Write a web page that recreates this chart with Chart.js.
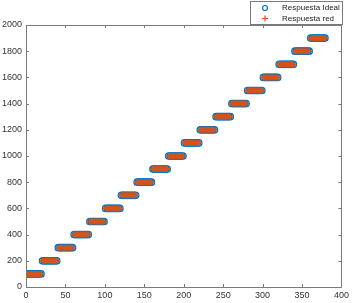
<!DOCTYPE html>
<html>
<head>
<meta charset="utf-8">
<script src="https://cdn.jsdelivr.net/npm/chart.js@4"></script>
<style>
html,body{margin:0;padding:0;background:#fff;}
canvas{display:block;}
</style>
</head>
<body>
<canvas id="c" width="352" height="303"></canvas>
<script>
const xValues = [
  1,3,5,7,9,11,13,15,17,19,
  21,23,25,27,29,31,33,35,37,39,
  41,43,45,47,49,51,53,55,57,59,
  61,63,65,67,69,71,73,75,77,79,
  81,83,85,87,89,91,93,95,97,99,
  101,103,105,107,109,111,113,115,117,119,
  121,123,125,127,129,131,133,135,137,139,
  141,143,145,147,149,151,153,155,157,159,
  161,163,165,167,169,171,173,175,177,179,
  181,183,185,187,189,191,193,195,197,199,
  201,203,205,207,209,211,213,215,217,219,
  221,223,225,227,229,231,233,235,237,239,
  241,243,245,247,249,251,253,255,257,259,
  261,263,265,267,269,271,273,275,277,279,
  281,283,285,287,289,291,293,295,297,299,
  301,303,305,307,309,311,313,315,317,319,
  321,323,325,327,329,331,333,335,337,339,
  341,343,345,347,349,351,353,355,357,359,
  361,363,365,367,369,371,373,375,377,379
];
const idealValues = [
  100,100,100,100,100,100,100,100,100,100,
  200,200,200,200,200,200,200,200,200,200,
  300,300,300,300,300,300,300,300,300,300,
  400,400,400,400,400,400,400,400,400,400,
  500,500,500,500,500,500,500,500,500,500,
  600,600,600,600,600,600,600,600,600,600,
  700,700,700,700,700,700,700,700,700,700,
  800,800,800,800,800,800,800,800,800,800,
  900,900,900,900,900,900,900,900,900,900,
  1000,1000,1000,1000,1000,1000,1000,1000,1000,1000,
  1100,1100,1100,1100,1100,1100,1100,1100,1100,1100,
  1200,1200,1200,1200,1200,1200,1200,1200,1200,1200,
  1300,1300,1300,1300,1300,1300,1300,1300,1300,1300,
  1400,1400,1400,1400,1400,1400,1400,1400,1400,1400,
  1500,1500,1500,1500,1500,1500,1500,1500,1500,1500,
  1600,1600,1600,1600,1600,1600,1600,1600,1600,1600,
  1700,1700,1700,1700,1700,1700,1700,1700,1700,1700,
  1800,1800,1800,1800,1800,1800,1800,1800,1800,1800,
  1900,1900,1900,1900,1900,1900,1900,1900,1900,1900
];
const redValues = [
  100,100,100,100,100,100,100,100,100,100,
  200,200,200,200,200,200,200,200,200,200,
  300,300,300,300,300,300,300,300,300,300,
  400,400,400,400,400,400,400,400,400,400,
  500,500,500,500,500,500,500,500,500,500,
  600,600,600,600,600,600,600,600,600,600,
  700,700,700,700,700,700,700,700,700,700,
  800,800,800,800,800,800,800,800,800,800,
  900,900,900,900,900,900,900,900,900,900,
  1000,1000,1000,1000,1000,1000,1000,1000,1000,1000,
  1100,1100,1100,1100,1100,1100,1100,1100,1100,1100,
  1200,1200,1200,1200,1200,1200,1200,1200,1200,1200,
  1300,1300,1300,1300,1300,1300,1300,1300,1300,1300,
  1400,1400,1400,1400,1400,1400,1400,1400,1400,1400,
  1500,1500,1500,1500,1500,1500,1500,1500,1500,1500,
  1600,1600,1600,1600,1600,1600,1600,1600,1600,1600,
  1700,1700,1700,1700,1700,1700,1700,1700,1700,1700,
  1800,1800,1800,1800,1800,1800,1800,1800,1800,1800,
  1900,1900,1900,1900,1900,1900,1900,1900,1900,1900
];
const xTicks = [0,50,100,150,200,250,300,350,400];
const yTicks = [0,200,400,600,800,1000,1200,1400,1600,1800,2000];
const seriesNames = ['Respuesta Ideal','Respuesta red'];

const BLUE = '#0072BD';
const ORANGE = '#D95319';
const AXIS = '#7a7a7a';
const FONT = '"Liberation Sans", Arial, sans-serif';

const idealPts = xValues.map((x,i)=>({x:x,y:idealValues[i]}));
const redPts = xValues.map((x,i)=>({x:x,y:redValues[i]}));

const framePlugin = {
  id:'frame',
  afterDraw(chart){
    const ctx = chart.ctx, a = chart.chartArea;
    const xs = chart.scales.x, ys = chart.scales.y;
    ctx.save();
    ctx.strokeStyle = AXIS;
    ctx.lineWidth = 1;
    ctx.beginPath();
    ctx.rect(Math.round(a.left)+0.5, Math.round(a.top)+0.5, Math.round(a.right-a.left), Math.round(a.bottom-a.top));
    ctx.stroke();
    ctx.beginPath();
    const tl = 3;
    xTicks.forEach(v=>{
      const px = Math.round(xs.getPixelForValue(v))+0.5;
      ctx.moveTo(px, a.bottom); ctx.lineTo(px, a.bottom-tl);
      ctx.moveTo(px, a.top); ctx.lineTo(px, a.top+tl);
    });
    yTicks.forEach(v=>{
      const py = Math.round(ys.getPixelForValue(v))+0.5;
      ctx.moveTo(a.left, py); ctx.lineTo(a.left+tl, py);
      ctx.moveTo(a.right, py); ctx.lineTo(a.right-tl, py);
    });
    ctx.stroke();

    // legend
    const lx = 250, ly = 1, lw = 92, lh = 23;
    ctx.fillStyle = '#fff';
    ctx.fillRect(lx, ly, lw, lh);
    ctx.strokeStyle = AXIS;
    ctx.strokeRect(lx+0.5, ly+0.5, lw, lh);
    ctx.font = '8px ' + FONT;
    ctx.fillStyle = '#222';
    ctx.textBaseline = 'middle';
    ctx.textAlign = 'left';
    const r1 = ly + 7, r2 = ly + 17.5, mx = 265;
    ctx.strokeStyle = BLUE; ctx.lineWidth = 1.2;
    ctx.beginPath(); ctx.arc(mx, r1, 2.5, 0, Math.PI*2); ctx.stroke();
    ctx.strokeStyle = ORANGE;
    ctx.beginPath();
    ctx.moveTo(mx-3, r2); ctx.lineTo(mx+3, r2);
    ctx.moveTo(mx, r2-3); ctx.lineTo(mx, r2+3);
    ctx.stroke();
    ctx.fillText(seriesNames[0], 282, r1);
    ctx.fillText(seriesNames[1], 282, r2);
    ctx.restore();
  }
};

new Chart(document.getElementById('c'), {
  type:'scatter',
  data:{
    datasets:[
      {label:seriesNames[0], data:idealPts, order:2, pointStyle:'circle', pointRadius:3.2,
       borderColor:BLUE, backgroundColor:'rgba(0,0,0,0)', borderWidth:1.3, pointHoverRadius:3.2},
      {label:seriesNames[1], data:redPts, order:1, pointStyle:'cross', pointRadius:3,
       borderColor:ORANGE, backgroundColor:ORANGE, borderWidth:1.6, pointHoverRadius:3}
    ]
  },
  options:{
    responsive:false,
    animation:false,
    events:[],
    layout:{padding:{top:25,right:10,left:0,bottom:0}},
    plugins:{legend:{display:false}, tooltip:{enabled:false}},
    scales:{
      x:{
        type:'linear', min:0, max:400,
        afterBuildTicks(s){ s.ticks = xTicks.map(v=>({value:v})); },
        afterFit(s){ s.height = 16; },
        grid:{display:false, drawTicks:false, tickLength:0}, border:{display:false},
        ticks:{color:'#333', padding:3, maxRotation:0, font:{family:FONT,size:9}, callback:v=>String(v)}
      },
      y:{
        type:'linear', min:0, max:2000,
        afterBuildTicks(s){ s.ticks = yTicks.map(v=>({value:v})); },
        afterFit(s){ s.width = 26; },
        grid:{display:false, drawTicks:false, tickLength:0}, border:{display:false},
        ticks:{color:'#333', padding:4, font:{family:FONT,size:9}, callback:v=>String(v)}
      }
    }
  },
  plugins:[framePlugin]
});
</script>
</body>
</html>
